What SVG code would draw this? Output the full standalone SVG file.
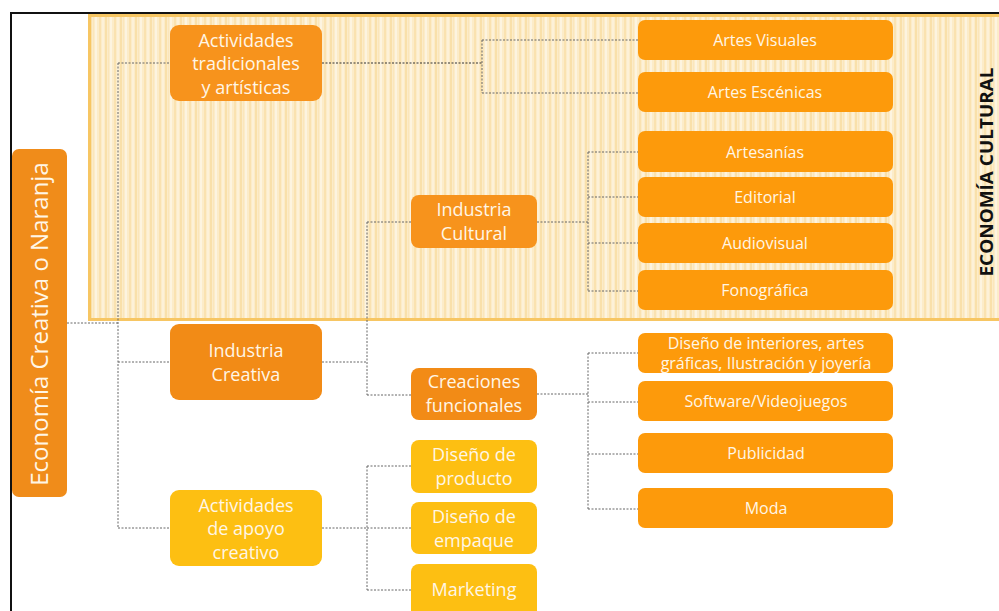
<svg xmlns="http://www.w3.org/2000/svg" width="999" height="611" viewBox="0 0 999 611">
<defs>
<pattern id="stripes" patternUnits="userSpaceOnUse" width="15" height="4">
<rect width="15" height="4" fill="#fcecc9"/>
<rect x="0" width="2" height="4" fill="#f9e0aa"/>
<rect x="3" width="1" height="4" fill="#fbe6bb"/>
<rect x="5" width="2" height="4" fill="#fdf4e0"/>
<rect x="9" width="2" height="4" fill="#fae2b0"/>
<rect x="12" width="2" height="4" fill="#fdf1d8"/>
</pattern>
</defs>
<style>
.t{font-family:"Open Sans","Noto Sans","Liberation Sans",sans-serif;fill:#fff6e6;text-anchor:middle}
.l2{font-size:18px}
.l3{font-size:16px}
.c{fill:none;stroke:#666;stroke-width:1;stroke-dasharray:2 1.5}
.o1{fill:#f7931c}
.o2{fill:#f28b16}
.o3{fill:#fd9a0b}
.y{fill:#fdbf12}
</style>
<rect width="999" height="611" fill="#ffffff"/>
<g id="band">
<rect x="89.5" y="15.5" width="912" height="304" fill="url(#stripes)" stroke="#f7c663" stroke-width="3"/>
</g>
<g id="frame" fill="none" stroke="#111" stroke-width="2">
<path d="M11,611 V13 H999"/>
</g>
<g id="connectors">
<path class="c" d="M67,323 H118 M118,63 V528 M118,63 H170 M118,362 H170 M118,528 H170"/>
<path class="c" style="stroke:#333" d="M322,63 H482"/>
<path class="c" d="M482,40 V93 M482,40 H638 M482,93 H638"/>
<path class="c" d="M322,362 H367 M367,222 V395 M367,222 H411 M367,395 H411"/>
<path class="c" d="M537,222 H588 M588,152 V291 M588,152 H638 M588,197 H638 M588,243 H638 M588,291 H638"/>
<path class="c" d="M537,394 H588 M588,353 V509 M588,353 H638 M588,402 H638 M588,454 H638 M588,509 H638"/>
<path class="c" d="M322,528 H367 M367,466 V590 M367,466 H411 M367,528 H411 M367,590 H411"/>
</g>
<g id="economia">
<rect x="12" y="149" width="55" height="348" rx="7" fill="#f08c1a"/>
<text class="t" transform="translate(48,324) rotate(-90)" style="font-size:24px">Economía Creativa o Naranja</text>
</g>
<g id="act-trad">
<rect class="o1" x="170" y="25" width="152" height="76" rx="9"/>
<text class="t l2" x="246" y="47">Actividades</text>
<text class="t l2" x="246" y="70">tradicionales</text>
<text class="t l2" x="246" y="94">y artísticas</text>
</g>
<g id="ind-creativa">
<rect class="o2" x="170" y="324" width="152" height="76" rx="9"/>
<text class="t l2" x="246" y="357">Industria</text>
<text class="t l2" x="246" y="381">Creativa</text>
</g>
<g id="act-apoyo">
<rect class="y" x="170" y="490" width="152" height="76" rx="9"/>
<text class="t l2" x="246" y="512">Actividades</text>
<text class="t l2" x="246" y="535">de apoyo</text>
<text class="t l2" x="246" y="559">creativo</text>
</g>
<g id="ind-cultural">
<rect class="o1" x="411" y="195" width="126" height="53" rx="8"/>
<text class="t l2" x="474" y="216">Industria</text>
<text class="t l2" x="474" y="240">Cultural</text>
</g>
<g id="creaciones">
<rect class="o2" x="411" y="368" width="126" height="52" rx="8"/>
<text class="t l2" x="474" y="388">Creaciones</text>
<text class="t l2" x="474" y="412">funcionales</text>
</g>
<g id="dis-producto">
<rect class="y" x="411" y="440" width="126" height="53" rx="8"/>
<text class="t l2" x="474" y="461">Diseño de</text>
<text class="t l2" x="474" y="485">producto</text>
</g>
<g id="dis-empaque">
<rect class="y" x="411" y="502" width="126" height="52" rx="8"/>
<text class="t l2" x="474" y="523">Diseño de</text>
<text class="t l2" x="474" y="547">empaque</text>
</g>
<g id="marketing">
<rect class="y" x="411" y="564" width="126" height="56" rx="8"/>
<text class="t l2" x="474" y="596">Marketing</text>
</g>
<g id="artes-visuales">
<rect class="o3" x="638" y="20" width="255" height="40" rx="7"/>
<text class="t l3" x="765" y="46">Artes Visuales</text>
</g>
<g id="artes-escenicas">
<rect class="o3" x="638" y="72" width="255" height="40" rx="7"/>
<text class="t l3" x="765" y="98">Artes Escénicas</text>
</g>
<g id="artesanias">
<rect class="o3" x="638" y="131" width="255" height="41" rx="7"/>
<text class="t l3" x="765" y="158">Artesanías</text>
</g>
<g id="editorial">
<rect class="o3" x="638" y="177" width="255" height="40" rx="7"/>
<text class="t l3" x="765" y="203">Editorial</text>
</g>
<g id="audiovisual">
<rect class="o3" x="638" y="223" width="255" height="40" rx="7"/>
<text class="t l3" x="765" y="249">Audiovisual</text>
</g>
<g id="fonografica">
<rect class="o3" x="638" y="270" width="255" height="40" rx="7"/>
<text class="t l3" x="765" y="296">Fonográfica</text>
</g>
<g id="diseno-interiores">
<rect class="o3" x="638" y="333" width="255" height="40" rx="7"/>
<text class="t l3" x="766" y="349">Diseño de interiores, artes</text>
<text class="t l3" x="766" y="369">gráficas, Ilustración y joyería</text>
</g>
<g id="software">
<rect class="o3" x="638" y="381" width="255" height="40" rx="7"/>
<text class="t l3" x="766" y="407">Software/Videojuegos</text>
</g>
<g id="publicidad">
<rect class="o3" x="638" y="433" width="255" height="40" rx="7"/>
<text class="t l3" x="766" y="459">Publicidad</text>
</g>
<g id="moda">
<rect class="o3" x="638" y="488" width="255" height="40" rx="7"/>
<text class="t l3" x="766" y="514">Moda</text>
</g>
<g id="economia-cultural">
<text transform="translate(993,172) rotate(-90)" textLength="209" lengthAdjust="spacingAndGlyphs" style="font-family:'Open Sans','Noto Sans',sans-serif;font-weight:bold;font-size:17px;fill:#111;text-anchor:middle">ECONOMÍA CULTURAL</text>
</g>
</svg>
